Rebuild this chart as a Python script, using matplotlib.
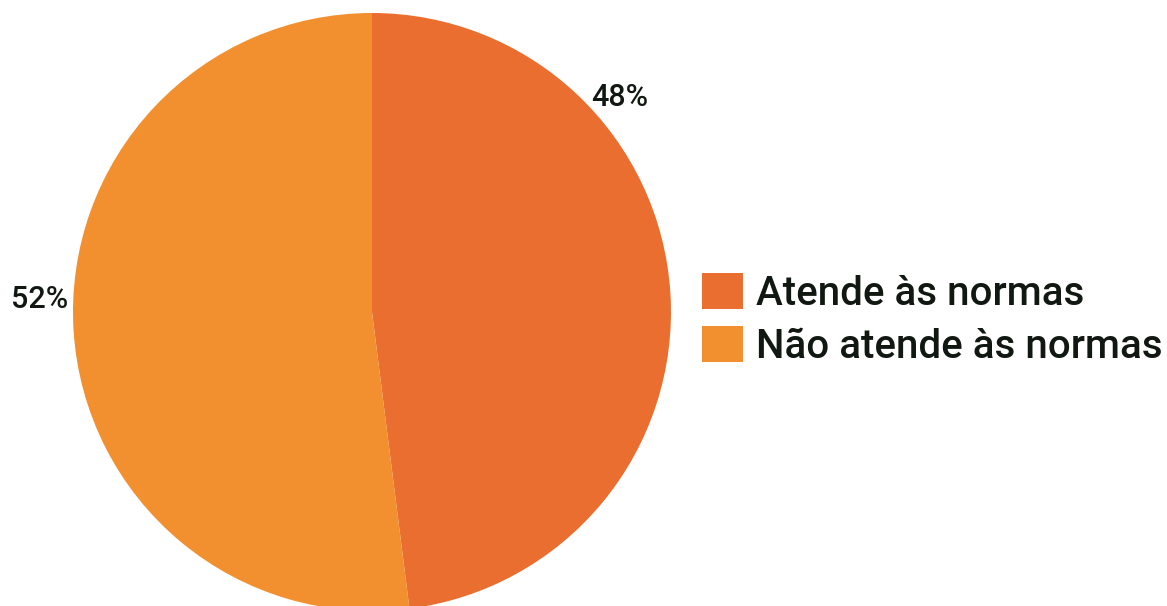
import matplotlib
matplotlib.use("Agg")
import matplotlib.pyplot as plt

categories = ["Atende às normas", "Não atende às normas"]
values = [48, 52]
value_labels = ["48%", "52%"]
colors = ["#EA6E30", "#F28F2E"]

W, H = 1167, 606
fig = plt.figure(figsize=(W / 100, H / 100), dpi=100)
ax = fig.add_axes([0, 0, 1, 1])
ax.set_xlim(0, W)
ax.set_ylim(0, H)
ax.set_aspect("equal")
ax.axis("off")

cx, cy, r = 372, H - 312, 299
wedges, _ = ax.pie(values, colors=colors, startangle=90, counterclock=False,
                   center=(cx, cy), radius=r, frame=True,
                   wedgeprops=dict(linewidth=0))
ax.set_xlim(0, W)
ax.set_ylim(0, H)
ax.axis("off")

font = dict(family=["Roboto", "DejaVu Sans"], fontweight="medium", color="#111811")
ax.text(620, H - 97, value_labels[0], ha="center", va="center", fontsize=22, **font)
ax.text(40, H - 300, value_labels[1], ha="center", va="center", fontsize=22, **font)

leg = fig.legend(wedges, categories, loc="upper left",
                 bbox_to_anchor=(670 / W, 1 - 241 / H),
                 frameon=False, handlelength=1.0, handleheight=1.0,
                 handletextpad=0.33, labelspacing=0.32, borderpad=0.3,
                 prop=dict(family=["Roboto", "DejaVu Sans"], weight="medium", size=29))
for t in leg.get_texts():
    t.set_color("#111811")

fig.savefig("out.png", dpi=100)
